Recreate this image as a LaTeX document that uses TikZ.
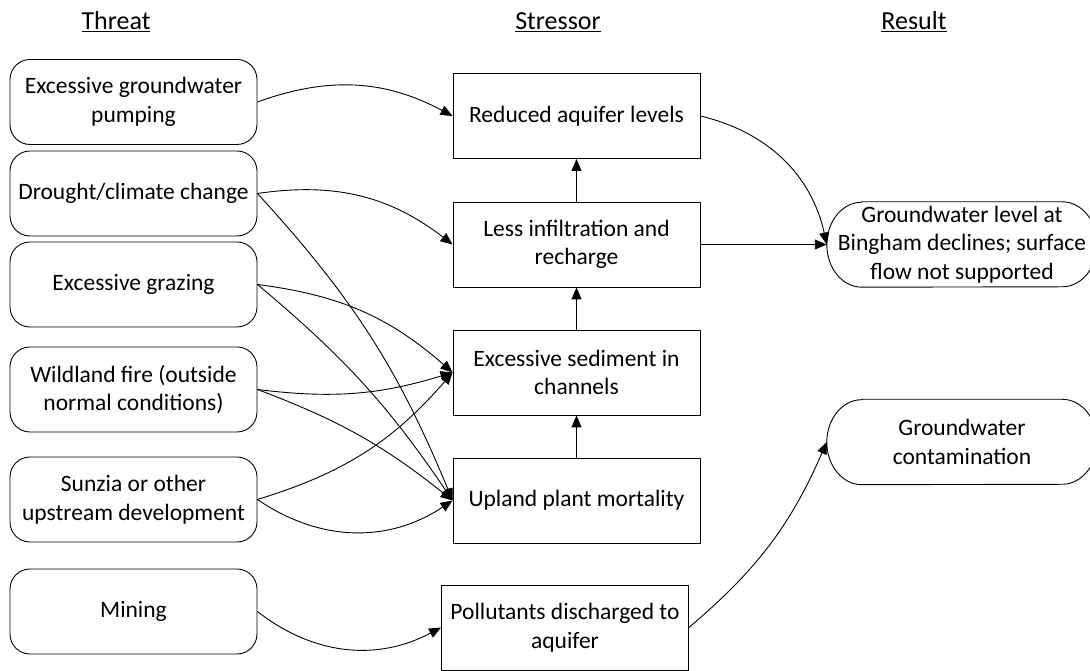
\documentclass[tikz,border=0pt]{standalone}
\usepackage{fontspec}
\setmainfont{Carlito}
\usetikzlibrary{arrows.meta,calc}
\begin{document}
\begin{tikzpicture}[x=1pt,y=1pt,
  every node/.style={font=\fontsize{23.5}{28.5}\selectfont, align=center},
  threat/.style={draw, rounded corners=20pt, minimum width=247pt, minimum height=85pt, line width=0.9pt},
  stress/.style={draw, minimum width=247pt, minimum height=85pt, line width=0.9pt},
  result/.style={minimum width=270pt, minimum height=85pt},
  hdr/.style={font=\fontsize{26}{30}\selectfont},
  arr/.style={-{Triangle[length=12pt,width=10pt]}, line width=0.9pt},
  outline/.style={line width=0.9pt}
]
\useasboundingbox (0,0) rectangle (1090,671);
\clip (0,0) rectangle (1090,671);

% headers
\node[hdr] (h1) at (116,649) {\underline{Threat}};
\node[hdr] (h2) at (558,649) {\underline{Stressor}};
\node[hdr] (h3) at (914,649) {\underline{Result}};

% threats
\node[threat] (t1) at (133.5,569) {Excessive groundwater\\pumping};
\node[threat] (t2) at (133.5,477.5) {Drought/climate change};
\node[threat] (t3) at (133.5,386.5) {Excessive grazing};
\node[threat] (t4) at (133.5,281.5) {Wildland fire (outside\\normal conditions)};
\node[threat] (t5) at (133.5,171.5) {Sunzia or other\\upstream development};
\node[threat] (t6) at (133.5,59.5) {Mining};

% stressors
\node[stress] (s1) at (576.5,555) {Reduced aquifer levels};
\node[stress] (s2) at (576.5,426.5) {Less infiltration and\\recharge};
\node[stress] (s3) at (576.5,298.5) {Excessive sediment in\\channels};
\node[stress] (s4) at (576.5,170.5) {Upland plant mortality};
\node[stress] (s5) at (565,43.5) {Pollutants discharged to\\aquifer};

% results
\node[result] (r1) at (962,426.5) {Groundwater level at\\Bingham declines; surface\\flow not supported};
\node[result] (r2) at (962,229) {Groundwater\\contamination};
\foreach \r in {r1,r2}{
  \draw[outline] ($(\r.north west)+(35,0)$) -- ($(\r.north east)+(-35,0)$)
    arc[start angle=90,end angle=-90,x radius=35,y radius=42.5]
    -- ($(\r.south west)+(35,0)$)
    arc[start angle=270,end angle=90,x radius=35,y radius=42.5] -- cycle;
}

% threat -> stressor
\draw[arr] (t1.east) to[bend left=24] (s1.west);
\draw[arr] (t2.east) to[bend left=23] (s2.west);
\draw[arr] (t2.east) to[bend left=10] (s4.west);
\draw[arr] (t3.east) to[bend left=17] (s3.west);
\draw[arr] (t3.east) to[bend left=8] (s4.west);
\draw[arr] (t4.east) to[bend right=12] (s3.west);
\draw[arr] (t4.east) to[bend left=9] (s4.west);
\draw[arr] (t5.east) to[bend right=16] (s3.west);
\draw[arr] (t5.east) to[bend right=34] (s4.west);
\draw[arr] (t6.east) to[bend right=33] (s5.west);

% stressor chain
\draw[arr] (s4.north) -- (s3.south);
\draw[arr] (s3.north) -- (s2.south);
\draw[arr] (s2.north) -- (s1.south);

% stressor -> result
\draw[arr] (s1.east) to[bend left=32] (r1.west);
\draw[arr] (s2.east) -- (r1.west);
\draw[arr] (s5.east) to[bend right=13] (r2.west);
\end{tikzpicture}
\end{document}
